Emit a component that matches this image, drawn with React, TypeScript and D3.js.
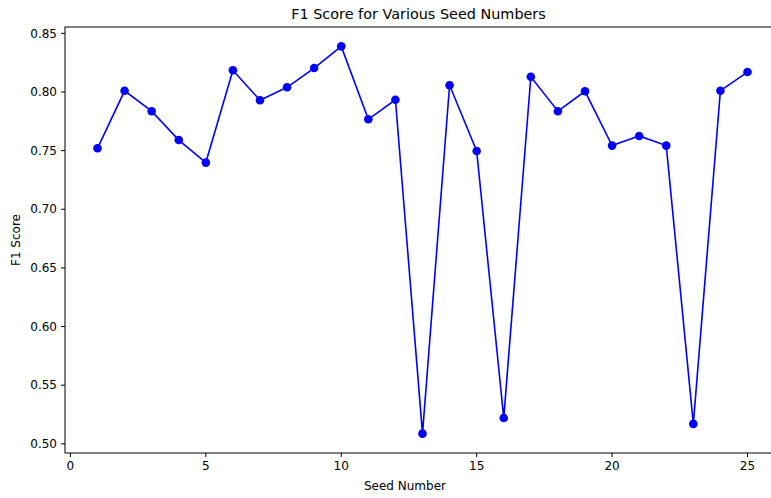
import React from "react";
import * as d3 from "d3";

const seeds = [1,2,3,4,5,6,7,8,9,10,11,12,13,14,15,16,17,18,19,20,21,22,23,24,25];
const f1 = [0.752,0.801,0.7836,0.759,0.7398,0.8185,0.7929,0.804,0.8204,0.8389,0.7767,0.7934,0.5087,0.8057,0.7497,0.5221,0.813,0.7836,0.8006,0.7543,0.7625,0.7543,0.517,0.8011,0.817];
const xTicks = [0,5,10,15,20,25];
const yTicks = [0.5,0.55,0.6,0.65,0.7,0.75,0.8,0.85];

const W = 771, H = 498;
const left = 65, right = 780, top = 27, bottom = 453;
const font = "DejaVu Sans, sans-serif";

export default function App() {
  const x = d3.scaleLinear().domain([-0.2, 26.2]).range([left, right]);
  const [mn, mx] = d3.extent(f1) as [number, number];
  const pad = (mx - mn) * 0.05;
  const y = d3.scaleLinear().domain([mn - pad, mx + pad]).range([bottom, top]);
  const line = d3.line<number>().x((_, i) => x(seeds[i])).y((d) => y(d));
  return (
    <svg width={W} height={H} style={{ position: "absolute", left: 0, top: 0 }}>
      <rect width={W} height={H} fill="#fff" />
      <text x={(left + right) / 2 - 4} y={19} textAnchor="middle" fontFamily={font} fontSize={14.4}>F1 Score for Various Seed Numbers</text>
      <path d={line(f1) || ""} fill="none" stroke="#0000ff" strokeWidth={1.6} />
      {f1.map((d, i) => (
        <circle key={i} cx={x(seeds[i])} cy={y(d)} r={4.3} fill="#0000ff" />
      ))}
      <rect x={left} y={top} width={right - left} height={bottom - top} fill="none" stroke="#000" strokeWidth={1} />
      {xTicks.map((t) => (
        <g key={t} transform={`translate(${x(t)},${bottom})`}>
          <line y2={4} stroke="#000" />
          <text y={17} textAnchor="middle" fontFamily={font} fontSize={12}>{t}</text>
        </g>
      ))}
      {yTicks.map((t) => (
        <g key={t} transform={`translate(${left},${y(t)})`}>
          <line x2={-4} stroke="#000" />
          <text x={-8} dy="0.35em" textAnchor="end" fontFamily={font} fontSize={12}>{t.toFixed(2)}</text>
        </g>
      ))}
      <text x={x(12.5) - 4} y={490} textAnchor="middle" fontFamily={font} fontSize={12}>Seed Number</text>
      <text transform={`translate(20,${(top + bottom) / 2}) rotate(-90)`} textAnchor="middle" fontFamily={font} fontSize={12}>F1 Score</text>
    </svg>
  );
}
